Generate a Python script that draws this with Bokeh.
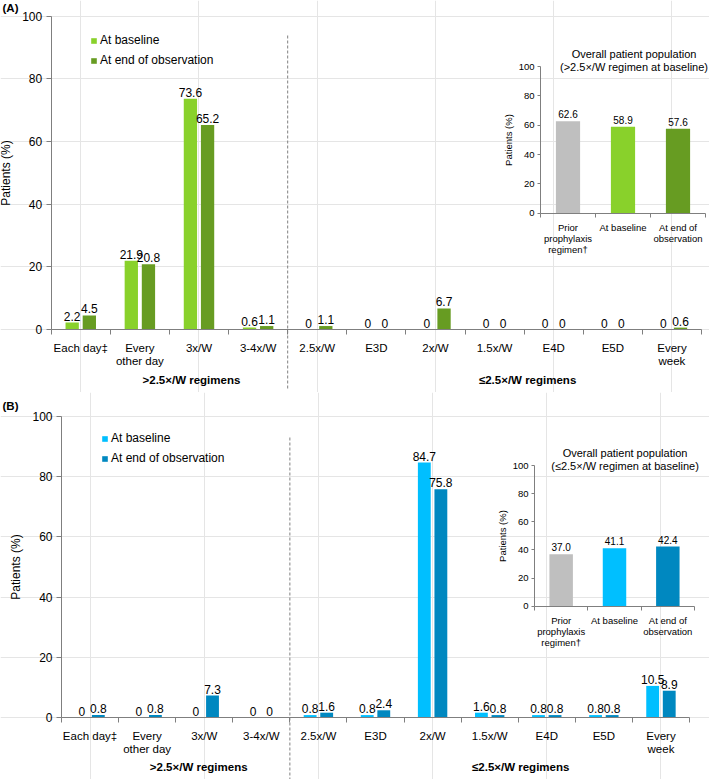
from bokeh.plotting import figure
from bokeh.models import (ColumnDataSource, Range1d, LinearAxis, FixedTicker, Legend,
                          LegendItem, Label, LinearScale)
from bokeh.layouts import column
from bokeh.embed import file_html
from bokeh.resources import INLINE
from bokeh.core.properties import value

# ---------------- data ----------------
categories = ["Each day\u2021", "Every\nother day", "3x/W", "3-4x/W", "2.5x/W", "E3D",
              "2x/W", "1.5x/W", "E4D", "E5D", "Every\nweek"]
groups = [">2.5\u00d7/W regimens", "\u22642.5\u00d7/W regimens"]
group_sizes = [4, 7]
series = ["At baseline", "At end of observation"]

a_baseline = [2.2, 21.9, 73.6, 0.6, 0, 0, 0, 0, 0, 0, 0]
a_end = [4.5, 20.8, 65.2, 1.1, 1.1, 0, 6.7, 0, 0, 0, 0.6]
b_baseline = [0, 0, 0, 0, 0.8, 0.8, 84.7, 1.6, 0.8, 0.8, 10.5]
b_end = [0.8, 0.8, 7.3, 0, 1.6, 2.4, 75.8, 0.8, 0.8, 0.8, 8.9]

inset_categories = ["Prior\nprophylaxis\nregimen\u2020", "At baseline", "At end of\nobservation"]
a_inset = [62.6, 58.9, 57.6]
b_inset = [37.0, 41.1, 42.4]
a_inset_title = ["Overall patient population", "(>2.5\u00d7/W regimen at baseline)"]
b_inset_title = ["Overall patient population", "(\u22642.5\u00d7/W regimen at baseline)"]
y_ticks = [0, 20, 40, 60, 80, 100]

# ---------------- styling ----------------
FONT = "Liberation Sans"
AXC = "#7f7f7f"
TXT = "#000000"
GRAY = "#BFBFBF"
A_LIGHT, A_DARK = "#89D12B", "#679C22"
B_LIGHT, B_DARK = "#00BFFF", "#0088C0"

W = 709
HA = 392
HB = 779 - HA


def lin_x(p1, v1, p2, v2, size):
    k = (p2 - p1) / (v2 - v1)
    start = v1 - p1 / k
    return start, start + size / k


def lin_y(p1, v1, p2, v2, size):
    k = (p1 - p2) / (v2 - v1)
    end = v1 + p1 / k
    return end - size / k, end


def fmt_main(v):
    return "0" if v == 0 else f"{v:.1f}"


def panel(tag, base, end, inset_vals, inset_title, light, dark, top_ref, H, g):
    fy = lambda r: r - top_ref
    n = len(categories)
    ni = len(inset_categories)
    xs, xe = lin_x(g["x0"], -0.5, g["x1"], n - 0.5, W)
    ys, ye = lin_y(fy(g["y0"]), 0, fy(g["y100"]), 100, H)
    ixs, ixe = lin_x(g["ix0"], -0.5, g["ix1"], ni - 0.5, W)
    iys, iye = lin_y(fy(g["iy0"]), 0, fy(g["iy100"]), 100, H)

    def y_of(r):
        return ye - fy(r) * (ye - ys) / H

    p = figure(width=W, height=H, x_range=Range1d(xs, xe), y_range=Range1d(ys, ye),
               x_axis_location=None, y_axis_location=None, toolbar_location=None,
               output_backend="svg", min_border=0, title=None)
    p.outline_line_color = None
    p.background_fill_color = "white"
    p.border_fill_color = "white"
    p.extra_x_ranges = {"inset": Range1d(ixs, ixe)}
    p.extra_y_ranges = {"inset": Range1d(iys, iye)}
    p.extra_x_scales = {"inset": LinearScale()}
    p.extra_y_scales = {"inset": LinearScale()}

    off = 0.145
    bw = 0.225
    s1 = ColumnDataSource(dict(x=[i - off for i in range(n)], top=base,
                               label=[fmt_main(v) for v in base]))
    s2 = ColumnDataSource(dict(x=[i + off for i in range(n)], top=end,
                               label=[fmt_main(v) for v in end]))
    r1 = p.vbar(x="x", top="top", width=bw, source=s1, fill_color=light, line_color=None)
    r2 = p.vbar(x="x", top="top", width=bw, source=s2, fill_color=dark, line_color=None)
    for s in (s1, s2):
        p.text(x="x", y="top", text="label", source=s, text_align="center",
               text_baseline="bottom", y_offset=-2, text_font=value(FONT),
               text_font_size="12px", text_color=TXT)

    # separator
    sep_x = group_sizes[0] - 0.5
    p.segment(x0=[sep_x], y0=[y_of(g["dash_bot"])], x1=[sep_x], y1=[y_of(g["dash_top"])],
              line_color="#808080", line_dash="3 2", line_width=1)

    # group labels
    gx, acc = [], 0
    for sz in group_sizes:
        gx.append(acc + (sz - 1) / 2)
        acc += sz
    gs = ColumnDataSource(dict(x=gx, y=[0, 0], text=groups, dx=g["grp_dx"]))
    p.text(x="x", y="y", text="text", source=gs, x_offset="dx", y_offset=g["grp_dy"],
           text_align="center", text_baseline="middle", text_font=value(FONT),
           text_font_size="11.5px", text_font_style="bold", text_color=TXT)

    # main axes
    ax = LinearAxis(ticker=FixedTicker(ticks=list(range(n)),
                                       minor_ticks=[i - 0.5 for i in range(n + 1)]),
                    fixed_location=0, bounds=(-0.5, n - 0.5),
                    major_label_overrides={i: c for i, c in enumerate(categories)},
                    major_tick_out=0, major_tick_in=0, minor_tick_out=5, minor_tick_in=0,
                    major_label_standoff=7, axis_line_color=AXC, minor_tick_line_color=AXC,
                    major_label_text_font=FONT, major_label_text_font_size="11.5px",
                    major_label_text_line_height=1.1, major_label_text_color=TXT)
    p.add_layout(ax, "below")
    ay = LinearAxis(ticker=FixedTicker(ticks=y_ticks, minor_ticks=[]), fixed_location=-0.5,
                    bounds=(0, 100), axis_label="Patients (%)",
                    major_tick_out=5, major_tick_in=0, minor_tick_out=0, minor_tick_in=0,
                    major_label_standoff=4, axis_line_color=AXC, major_tick_line_color=AXC,
                    major_label_text_font=FONT, major_label_text_font_size="12px",
                    major_label_text_color=TXT, axis_label_text_font=FONT,
                    axis_label_text_font_size="12px", axis_label_text_font_style="normal",
                    axis_label_text_color=TXT, axis_label_standoff=6)
    p.add_layout(ay, "left")

    # legend
    leg = Legend(items=[LegendItem(label=series[0], renderers=[r1]),
                        LegendItem(label=series[1], renderers=[r2])],
                 location=(g["leg_x"], H - fy(g["leg_top"]) - 40),
                 orientation="vertical", glyph_width=7, glyph_height=7, label_height=20,
                 spacing=0, padding=0, margin=0, label_standoff=3,
                 border_line_color=None, background_fill_alpha=0,
                 label_text_font=FONT, label_text_font_size="12px", label_text_color=TXT)
    p.add_layout(leg)

    # inset
    isrc = ColumnDataSource(dict(x=list(range(ni)), top=inset_vals,
                                 color=[GRAY, light, dark],
                                 label=[f"{v:.1f}" for v in inset_vals]))
    p.vbar(x="x", top="top", width=0.44, source=isrc, fill_color="color", line_color=None,
           x_range_name="inset", y_range_name="inset")
    p.text(x="x", y="top", text="label", source=isrc, x_range_name="inset",
           y_range_name="inset", text_align="center", text_baseline="bottom", y_offset=-3,
           text_font=value(FONT), text_font_size="10px", text_color=TXT)
    iax = LinearAxis(x_range_name="inset", y_range_name="inset",
                     ticker=FixedTicker(ticks=list(range(ni)),
                                        minor_ticks=[i - 0.5 for i in range(ni + 1)]),
                     fixed_location=0, bounds=(-0.5, ni - 0.5),
                     major_label_overrides={i: c for i, c in enumerate(inset_categories)},
                     major_tick_out=0, major_tick_in=0, minor_tick_out=4, minor_tick_in=0,
                     major_label_standoff=5, axis_line_color=AXC, minor_tick_line_color=AXC,
                     major_label_text_font=FONT, major_label_text_font_size="9.5px",
                     major_label_text_line_height=1.0, major_label_text_color=TXT)
    p.add_layout(iax, "below")
    iay = LinearAxis(x_range_name="inset", y_range_name="inset",
                     ticker=FixedTicker(ticks=y_ticks, minor_ticks=[]), fixed_location=-0.5,
                     bounds=(0, 100), axis_label="Patients (%)",
                     major_tick_out=3, major_tick_in=0, minor_tick_out=0, minor_tick_in=0,
                     major_label_standoff=3, axis_line_color=AXC, major_tick_line_color=AXC,
                     major_label_text_font=FONT, major_label_text_font_size="9.5px",
                     major_label_text_color=TXT, axis_label_text_font=FONT,
                     axis_label_text_font_size="9.5px", axis_label_text_font_style="normal",
                     axis_label_text_color=TXT, axis_label_standoff=2)
    p.add_layout(iay, "left")
    tsrc = ColumnDataSource(dict(x=[(ni - 1) / 2] * 2, y=[100, 100], text=inset_title,
                                 dy=[-13, 0]))
    p.text(x="x", y="y", text="text", source=tsrc, x_range_name="inset", y_range_name="inset",
           x_offset=g["title_dx"], y_offset="dy", text_align="center", text_baseline="middle",
           text_font=value(FONT), text_font_size="11px", text_color=TXT)

    # panel tag
    p.add_layout(Label(x=2, y=H - fy(g["tag_y"]), x_units="screen", y_units="screen",
                       text=tag, text_baseline="middle", text_align="left",
                       text_font=FONT, text_font_size="11.5px",
                       text_font_style="bold", text_color=TXT))
    return p


geoA = dict(x0=50.7, x1=701, y0=329, y100=15.5, ix0=540, ix1=705, iy0=212.7, iy100=66,
            dash_top=33, dash_bot=388, grp_dx=[22, 33], grp_dy=50, title_dx=11, leg_x=90,
            leg_top=30, tag_y=7)
geoB = dict(x0=61, x1=689, y0=717, y100=416, ix0=534, ix1=694, iy0=605.7, iy100=465,
            dash_top=437, dash_bot=790, grp_dx=[23, 31], grp_dy=49, title_dx=10.5, leg_x=101,
            leg_top=428, tag_y=405)

pA = panel("(A)", a_baseline, a_end, a_inset, a_inset_title, A_LIGHT, A_DARK, 0, HA, geoA)
pB = panel("(B)", b_baseline, b_end, b_inset, b_inset_title, B_LIGHT, B_DARK, HA, HB, geoB)

layout = column(pA, pB, spacing=0)
open("out.html", "w").write(file_html(layout, INLINE))
